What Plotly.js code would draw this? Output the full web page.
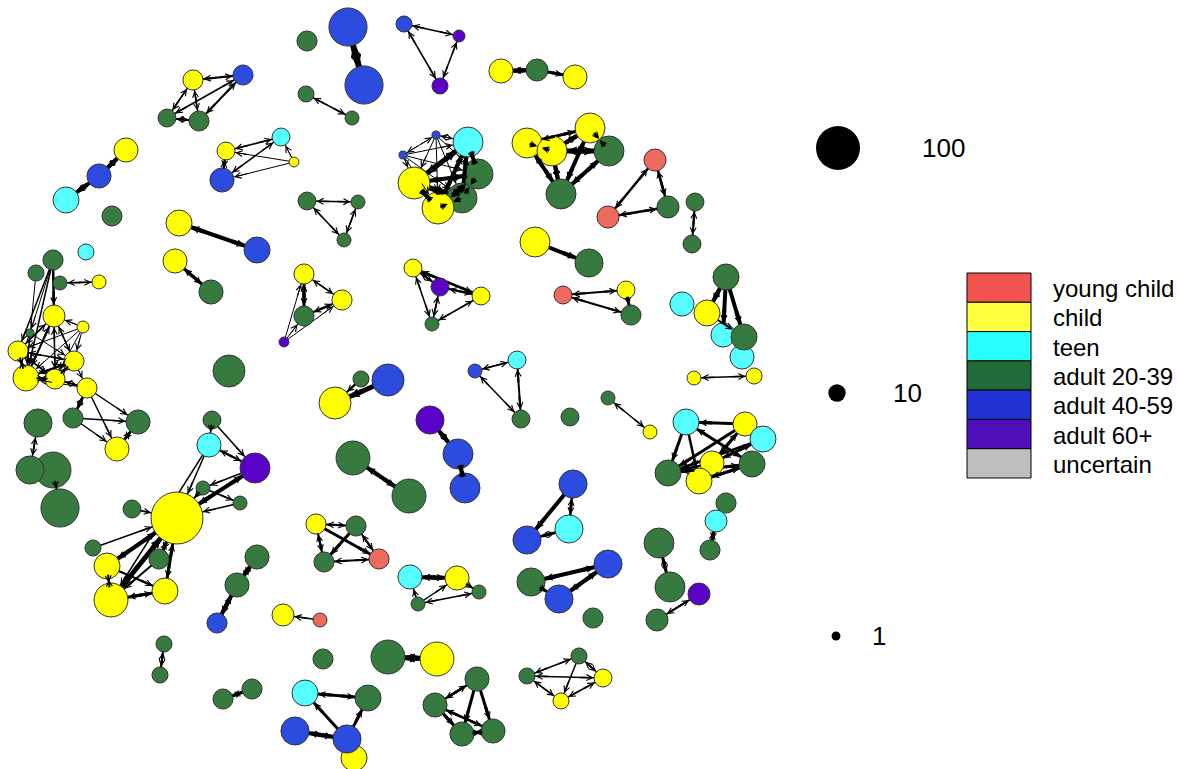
<!DOCTYPE html>
<html><head><meta charset="utf-8">
<script src="https://cdn.plot.ly/plotly-3.0.1.min.js"></script>
<style>html,body{margin:0;padding:0;background:#fff}</style>
</head><body><div id="chart" style="width:1178px;height:769px"></div>
<script>
// ---- data ----
const groupKeys = ['yc','c','t','a1','a2','a3','u'];
const groupLabels = ['young child','child','teen','adult 20-39','adult 40-59','adult 60+','uncertain'];
const sizeLegendValues = [100, 10, 1];

const nodeX = [193,243,167,199,126,99,66,112,281,294,226,222,179,257,86,53,36,60,99,54,83,30,18,74,26,55,87,73,138,117,38,53,30,60,175,211,229,212,209,255,203,240,177,132,93,107,159,111,165,257,237,217,164,160,252,223,307,348,364,404,459,440,501,537,575,306,352,307,358,344,436,403,462,478,468,414,438,527,590,552,609,561,655,608,668,695,692,535,589,304,342,304,284,413,440,481,432,563,626,631,726,682,707,723,742,744,694,754,361,388,335,517,475,521,430,458,465,353,409,570,608,650,686,745,763,752,712,699,668,726,716,710,573,527,569,531,608,559,593,659,670,699,657,316,356,324,379,410,457,479,418,283,320,323,388,437,305,368,295,354,347,477,435,462,493,527,579,603,561];
const nodeY = [80,75,118,121,150,176,200,216,137,162,151,180,223,250,252,260,273,283,282,316,327,333,351,361,378,379,388,418,422,449,423,470,470,508,261,292,371,420,445,468,488,503,518,509,548,566,559,600,591,557,585,623,644,675,689,699,41,27,85,24,36,86,71,70,77,94,118,201,202,240,135,155,198,174,142,183,208,143,128,151,151,194,160,217,207,202,244,242,263,274,300,316,342,268,287,296,324,295,290,315,277,304,313,335,357,337,378,376,379,380,403,360,371,419,420,454,488,458,496,417,398,432,422,424,439,464,463,481,473,503,521,550,484,540,529,582,564,599,618,543,587,594,620,524,526,562,559,577,578,592,604,615,620,659,657,659,693,698,731,758,739,679,705,734,731,676,656,678,701];
const nodeValue = [15,15,11,15,24,24,29,15,11,1.6,11,24,29,29,8,15,8,5.3,5.3,19,3.2,0.6,15,15,29,15,15,15,24,24,35,63,35,72,24,24,48,11,24,41,5.3,5.3,145,11,8,29,15,55,29,24,24,15,8,8,15,15,15,72,72,8,3.2,8,24,19,24,8,5.3,11,5.3,5.3,0.6,0.6,41,41,41,48,48,41,41,41,41,41,19,19,19,11,11,41,35,15,15,15,1.6,11,11,11,5.3,11,11,15,29,24,29,24,24,29,5.3,8,8,48,48,11,5.3,11,35,41,41,55,55,11,5.3,5.3,29,24,29,29,24,29,29,15,19,15,35,35,35,35,35,35,15,41,41,19,19,15,15,15,15,24,24,5.3,5.3,19,5.3,15,55,55,29,29,35,29,35,24,24,24,24,8,8,11,8];
const nodeGroup = ['c','a2','a1','a1','c','a2','t','a1','t','c','c','a2','c','a2','t','a1','a1','a1','c','c','c','a1','c','c','c','c','c','a1','a1','c','a1','a1','a1','a1','c','a1','a1','a1','t','a3','a1','a1','c','a1','a1','c','a1','c','c','a1','a1','a2','a1','a1','a1','a1','a1','a2','a2','a2','a3','a3','c','a1','c','a1','a1','a1','a1','a1','a2','a2','a1','a1','t','c','c','c','c','c','a1','a1','yc','yc','a1','a1','a1','c','a1','c','c','a1','a3','c','a3','c','a1','yc','c','a1','a1','t','c','t','t','a1','c','c','a1','a2','c','t','a2','a1','a3','a2','a2','a1','a1','a1','a1','c','t','c','t','a1','c','c','a1','a1','t','a1','a2','a2','t','a1','a2','a2','a1','a1','a1','a3','a1','c','a1','a1','yc','t','c','a1','a1','c','yc','a1','a1','c','t','a1','a2','c','a2','a1','a1','a1','a1','a1','a1','c','c'];

// edges: [from, to, weight, mutual]
const edges = [
 [0,1,2,1],[2,0,1.5,1],[3,0,1.5,1],[2,1,1.5,1],[3,1,2,1],[3,2,2,1],
 [4,5,4,1],[5,6,4,1],
 [8,10,1.5,1],[8,11,1.5,1],[9,10,1,0],[9,11,1,0],[11,10,2,1],[9,8,1,0],
 [12,13,4,1],[17,18,1.5,1],
 [15,19,2.5,0],[15,22,1.5,0],[15,24,1.5,0],[15,21,1,0],[15,25,1,0],[16,24,1,0],
 [19,22,1.5,1],[19,24,2,1],[19,25,1.5,1],[19,23,1.5,1],[20,19,1,0],[20,22,1,0],[20,24,1,0],[20,23,1,0],[20,25,1,0],
 [22,23,1.5,1],[22,24,2,1],[22,25,1.5,1],[23,24,2,1],[23,25,1.5,1],[24,25,2,1],[26,24,1,0],[26,25,1.5,1],[23,26,1,0],[21,24,1,0],[21,23,1,0],
 [26,28,1.5,0],[26,29,1.5,0],[27,28,1.5,0],[27,29,1.5,0],[27,26,2.5,1],[29,28,2.5,1],
 [30,32,1.5,1],[31,33,2,0],
 [34,35,3,1],
 [37,39,1.5,0],[37,38,1.5,0],[38,39,2,1],[38,42,1.5,0],[39,42,4,1],[40,41,1.5,0],[41,42,1.5,0],[43,42,1.5,0],[44,42,1.5,0],
 [45,42,4,1],[46,42,3,1],[47,42,5,1],[48,42,3,1],[45,47,2,1],[45,48,2,0],[47,48,3,1],[46,47,2,0],[38,47,1.5,0],[40,42,2,0],[39,40,1.5,0],
 [49,50,4,1],[50,51,4,1],[52,53,2,1],[54,55,3,1],
 [57,58,6,1],[59,60,1.5,1],[59,61,1.5,1],[60,61,1.5,1],[63,62,4,1],[63,64,3,0],[65,66,1.5,1],[67,68,1.5,1],[67,69,1.5,1],[68,69,1.5,1],
 [70,71,1,1],[70,74,1,1],[70,75,1,0],[70,76,1,0],[70,73,1,0],[70,72,1,0],[71,74,1,0],[71,75,1,0],[71,76,1,0],[71,73,1,0],[71,72,1,0],
 [75,74,5,1],[76,74,4,1],[74,73,4,1],[74,72,4,1],[73,75,4,1],[73,76,5,1],[72,75,5,1],[72,76,3,1],[75,76,4,1],[73,72,3,1],
 [77,79,3,1],[77,78,3,1],[79,78,4,1],[79,80,5,1],[78,80,3,1],[77,81,4,1],[79,81,4,1],[78,81,4,1],[80,81,4,1],
 [82,83,2.5,1],[83,84,2.5,1],[82,84,2.5,1],[85,86,2,1],[87,88,4,0],
 [89,90,1.5,1],[89,91,3,1],[91,90,2,1],[92,89,1,0],[92,91,1,0],[92,90,1,0],
 [93,95,2.5,1],[93,94,2,1],[94,95,2,1],[94,96,1.5,1],[93,96,1.5,1],[96,95,1.5,1],
 [97,98,2,1],[97,99,2,1],[98,99,3,0],
 [100,102,4,1],[100,103,4,0],[100,105,4,0],[102,105,2,0],[106,107,1.5,1],
 [109,110,5,0],[108,110,2,0],
 [111,112,1.5,1],[112,113,1.5,1],[111,113,2,1],[114,115,4,1],[115,116,4,1],[117,118,4,1],[120,121,1.5,1],
 [123,122,3,0],[122,125,3,1],[122,128,3,0],[123,128,3,0],[124,128,2.5,0],[124,126,3,1],[125,127,3,1],[125,128,3,1],[122,127,2.5,0],[123,126,3,1],[126,128,2,1],[130,131,3,1],
 [132,133,4,0],[132,134,2.5,1],[134,133,2.5,1],
 [136,135,4,1],[136,137,4,1],[135,137,3,0],[139,140,3,1],[141,142,2,1],
 [143,144,2,1],[143,145,2,1],[143,146,3,0],[144,145,3,0],[144,146,2,1],[145,146,2,1],
 [147,148,4,1],[148,149,2,0],[150,148,1.5,0],[150,149,1.5,1],[150,147,1.5,0],[152,151,1.5,0],[154,155,5,1],
 [156,157,3,1],[160,156,3,0],[158,160,4,1],[160,157,3,0],
 [161,162,2.5,1],[161,163,3,0],[161,164,3,0],[162,163,3,0],[162,164,2.5,1],[163,164,3,1],
 [165,166,1.5,1],[165,167,1.5,1],[165,168,1.5,1],[166,167,1.5,1],[166,168,1.5,0],[167,168,1.5,1]
];

// ---- styles ----
const nodeColors = {yc:'#EE6A5E', c:'#FFFF00', t:'#55FFFF', a1:'#367A3F', a2:'#2C4BDF', a3:'#5B02C8', u:'#BEBEBE'};
const legendColors = {yc:'#F0554F', c:'#FFFF40', t:'#2AFFFF', a1:'#206B37', a2:'#2233D5', a3:'#500FB8', u:'#BEBEBE'};
const FONT = 'Liberation Sans, Arial, sans-serif';
function diameter(v){ return 2*(2.5 + 1.95*Math.sqrt(v)); }
function radius(i){ return diameter(nodeValue[i])/2; }

const traces = [];
// edge lines grouped by width (under nodes)
const byW = {};
edges.forEach(([a,b,w]) => {
  if(!byW[w]) byW[w] = {x:[], y:[]};
  byW[w].x.push(nodeX[a], nodeX[b], null);
  byW[w].y.push(nodeY[a], nodeY[b], null);
});
Object.keys(byW).forEach(w => {
  traces.push({type:'scatter', mode:'lines', x:byW[w].x, y:byW[w].y,
    line:{color:'#000', width:+w}, hoverinfo:'skip', showlegend:false});
});
// nodes
traces.push({type:'scatter', mode:'markers', x:nodeX, y:nodeY,
  marker:{size:nodeValue.map(diameter), color:nodeGroup.map(g=>nodeColors[g]),
          line:{color:'#333', width:1}, opacity:1},
  hoverinfo:'skip', showlegend:false});
// size legend
const sizeLegX = [838, 837, 836], sizeLegY = [148, 393, 636];
traces.push({type:'scatter', mode:'markers', x:sizeLegX, y:sizeLegY,
  marker:{size:sizeLegendValues.map(diameter), color:'#000', opacity:1, line:{width:0}},
  hoverinfo:'skip', showlegend:false});

// arrowheads
const annotations = [];
function head(h, o, w){
  const dx = nodeX[o]-nodeX[h], dy = nodeY[o]-nodeY[h];
  const d = Math.hypot(dx, dy);
  const rh = radius(h), ro = radius(o);
  const L = Math.max(9, Math.min(14, d - rh - ro));
  const ux = dx/d, uy = dy/d;
  annotations.push({x:nodeX[h], y:nodeY[h], xref:'x', yref:'y',
    ax:nodeX[h]+ux*(rh+L), ay:nodeY[h]+uy*(rh+L), axref:'x', ayref:'y',
    showarrow:true, arrowhead:5, arrowwidth:w, arrowsize:Math.max(0.3, 1.15/w),
    arrowcolor:'#000', standoff:rh+0.5, text:'', font:{size:1}, borderpad:0});
}
edges.forEach(([a,b,w,m]) => { head(b, a, w); if(m) head(a, b, w); });

// size legend labels
const sizeLabX = [920, 891, 870];
sizeLegendValues.forEach((v,i) => annotations.push({x:sizeLabX[i], y:sizeLegY[i], xref:'x', yref:'y',
  text:String(v), showarrow:false, xanchor:'left', yanchor:'middle', font:{family:FONT, size:26, color:'#000'}}));

// colour legend
const shapes = [];
const boxTop = 273, boxBot = 478, rowH = (boxBot-boxTop)/groupKeys.length;
groupKeys.forEach((g,i) => {
  const y0 = boxTop + i*rowH;
  shapes.push({type:'rect', xref:'x', yref:'y', x0:967, x1:1031, y0:y0, y1:y0+rowH,
    fillcolor:legendColors[g], line:{color:'#000', width:1}});
  annotations.push({x:1051, y:y0+rowH/2+1, xref:'x', yref:'y', text:groupLabels[i], showarrow:false,
    xanchor:'left', yanchor:'middle', font:{family:FONT, size:24, color:'#000'}});
});

const layout = {
  width:1178, height:769, autosize:false,
  margin:{l:0, r:0, t:0, b:0, pad:0},
  paper_bgcolor:'#fff', plot_bgcolor:'#fff',
  xaxis:{range:[0,1178], visible:false, fixedrange:true},
  yaxis:{range:[769,0], visible:false, fixedrange:true},
  showlegend:false, shapes:shapes, annotations:annotations, hovermode:false
};
Plotly.newPlot('chart', traces, layout, {staticPlot:true, displayModeBar:false});
</script>
</body></html>
